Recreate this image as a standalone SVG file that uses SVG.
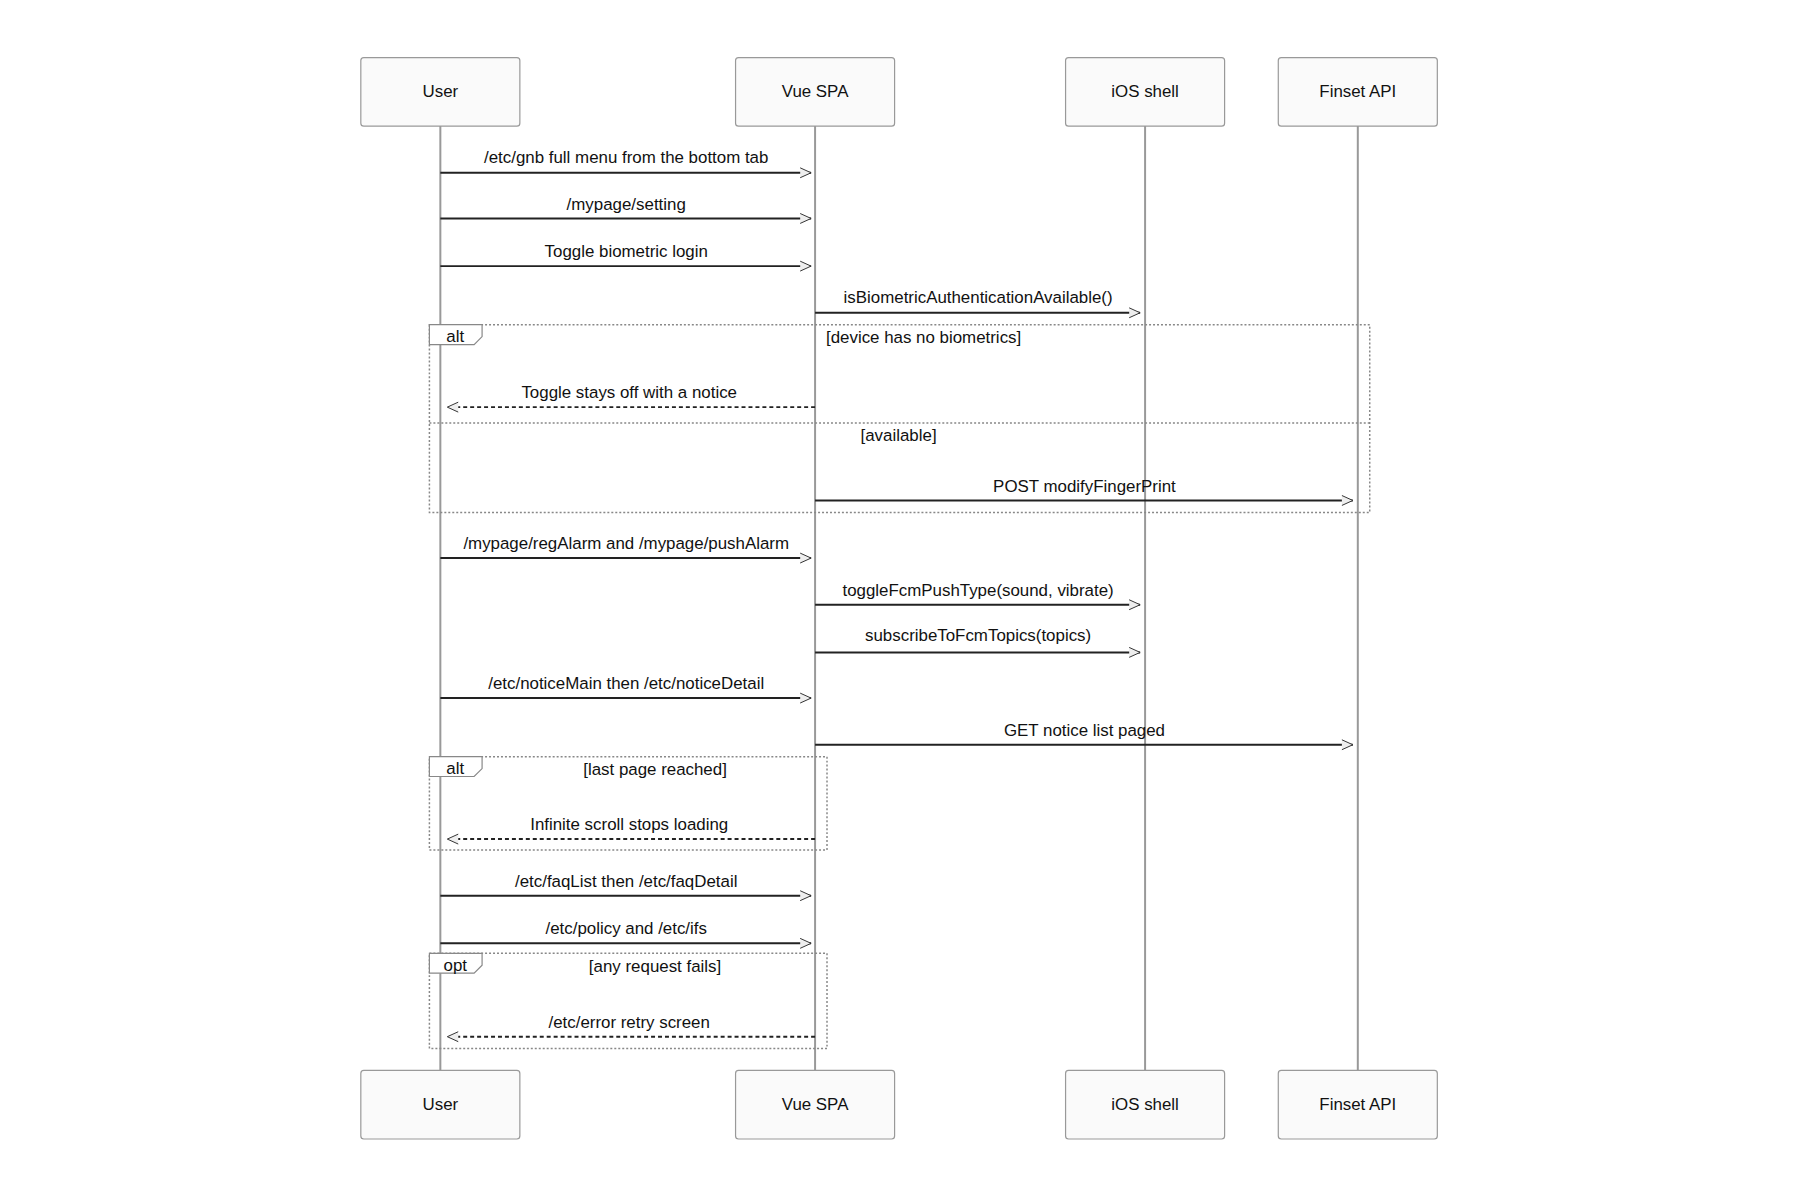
<svg xmlns="http://www.w3.org/2000/svg" width="1800" height="1200" viewBox="0 0 1800 1200">
<style>
.actor{fill:#fafafa;stroke:#999;stroke-width:1.2}
.at{font-family:"Liberation Sans",Arial,sans-serif;font-size:17px;fill:#111;text-anchor:middle;dominant-baseline:central}
.life{stroke:#999;stroke-width:2}
.m{stroke:#222;stroke-width:2;fill:none;marker-end:url(#ah)}
.d{stroke:#222;stroke-width:2;fill:none;stroke-dasharray:4,3;marker-end:url(#ah)}
.t{font-family:"Liberation Sans",Arial,sans-serif;font-size:17px;fill:#111;text-anchor:middle}
.fr{fill:none;stroke:#888;stroke-width:1.5;stroke-dasharray:2,2}
.lb{fill:#fff;stroke:#888;stroke-width:1.2}
</style>
<defs>
<marker id="ah" markerWidth="14" markerHeight="12" refX="12" refY="6" orient="auto" markerUnits="userSpaceOnUse">
<path d="M1,1 L12,6 L1,11" fill="#eee" stroke="#333" stroke-width="1"/>
</marker>
</defs>
<rect width="1800" height="1200" fill="#fff"/>
<g transform="scale(0.994 0.993)">
<g id="lifelines">
<line class="life" x1="443" y1="127" x2="443" y2="1078"/>
<line class="life" x1="820" y1="127" x2="820" y2="1078"/>
<line class="life" x1="1152" y1="127" x2="1152" y2="1078"/>
<line class="life" x1="1366" y1="127" x2="1366" y2="1078"/>
</g>
<g id="user"><rect class="actor" x="363" y="58" width="160" height="69" rx="3"/><text class="at" x="443" y="92">User</text>
<rect class="actor" x="363" y="1078" width="160" height="69" rx="3"/><text class="at" x="443" y="1112">User</text></g>
<g id="vue"><rect class="actor" x="740" y="58" width="160" height="69" rx="3"/><text class="at" x="820" y="92">Vue SPA</text>
<rect class="actor" x="740" y="1078" width="160" height="69" rx="3"/><text class="at" x="820" y="1112">Vue SPA</text></g>
<g id="ios"><rect class="actor" x="1072" y="58" width="160" height="69" rx="3"/><text class="at" x="1152" y="92">iOS shell</text>
<rect class="actor" x="1072" y="1078" width="160" height="69" rx="3"/><text class="at" x="1152" y="1112">iOS shell</text></g>
<g id="finset"><rect class="actor" x="1286" y="58" width="160" height="69" rx="3"/><text class="at" x="1366" y="92">Finset API</text>
<rect class="actor" x="1286" y="1078" width="160" height="69" rx="3"/><text class="at" x="1366" y="1112">Finset API</text></g>
<g id="frames">
<rect class="fr" x="432" y="327" width="946" height="189"/>
<line class="fr" x1="432" y1="426" x2="1378" y2="426"/>
<path class="lb" d="M432,327 H485 V339 L477,347 H432 Z"/>
<text class="t" x="458" y="344">alt</text>
<text class="t" x="831" y="345" style="text-anchor:start">[device has no biometrics]</text>
<text class="t" x="904" y="444">[available]</text>
<rect class="fr" x="432" y="762" width="400" height="94"/>
<path class="lb" d="M432,762 H485 V774 L477,782 H432 Z"/>
<text class="t" x="458" y="779">alt</text>
<text class="t" x="659" y="780">[last page reached]</text>
<rect class="fr" x="432" y="960" width="400" height="96"/>
<path class="lb" d="M432,960 H485 V972 L477,980 H432 Z"/>
<text class="t" x="458" y="978">opt</text>
<text class="t" x="659" y="979">[any request fails]</text>
</g>
<g id="connectors">
<line class="m" x1="443" y1="174" x2="816" y2="174"/><text class="t" x="630" y="164">/etc/gnb full menu from the bottom tab</text>
<line class="m" x1="443" y1="220" x2="816" y2="220"/><text class="t" x="630" y="211">/mypage/setting</text>
<line class="m" x1="443" y1="268" x2="816" y2="268"/><text class="t" x="630" y="259">Toggle biometric login</text>
<line class="m" x1="820" y1="315" x2="1147" y2="315"/><text class="t" x="984" y="305">isBiometricAuthenticationAvailable()</text>
<line class="d" x1="820" y1="410" x2="450" y2="410"/><text class="t" x="633" y="401">Toggle stays off with a notice</text>
<line class="m" x1="820" y1="504" x2="1361" y2="504"/><text class="t" x="1091" y="495">POST modifyFingerPrint</text>
<line class="m" x1="443" y1="562" x2="816" y2="562"/><text class="t" x="630" y="553">/mypage/regAlarm and /mypage/pushAlarm</text>
<line class="m" x1="820" y1="609" x2="1147" y2="609"/><text class="t" x="984" y="600">toggleFcmPushType(sound, vibrate)</text>
<line class="m" x1="820" y1="657" x2="1147" y2="657"/><text class="t" x="984" y="646">subscribeToFcmTopics(topics)</text>
<line class="m" x1="443" y1="703" x2="816" y2="703"/><text class="t" x="630" y="694">/etc/noticeMain then /etc/noticeDetail</text>
<line class="m" x1="820" y1="750" x2="1361" y2="750"/><text class="t" x="1091" y="741">GET notice list paged</text>
<line class="d" x1="820" y1="845" x2="450" y2="845"/><text class="t" x="633" y="836">Infinite scroll stops loading</text>
<line class="m" x1="443" y1="902" x2="816" y2="902"/><text class="t" x="630" y="893">/etc/faqList then /etc/faqDetail</text>
<line class="m" x1="443" y1="950" x2="816" y2="950"/><text class="t" x="630" y="941">/etc/policy and /etc/ifs</text>
<line class="d" x1="820" y1="1044" x2="450" y2="1044"/><text class="t" x="633" y="1035">/etc/error retry screen</text>
</g>
</g>
</svg>
